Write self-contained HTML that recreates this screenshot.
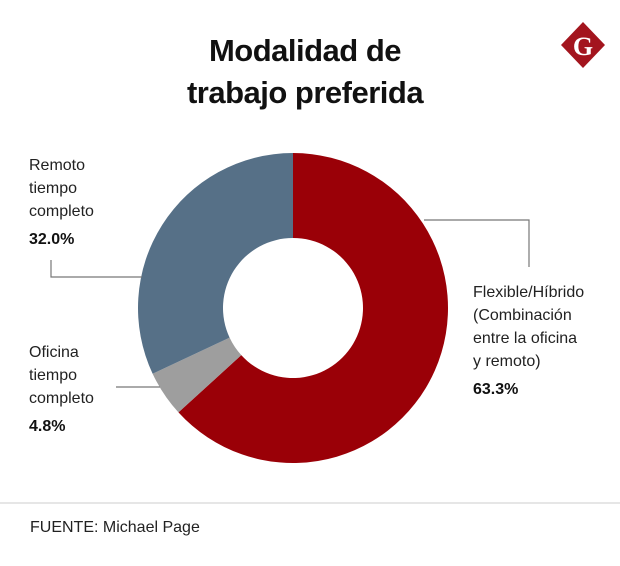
<!DOCTYPE html>
<html><head><meta charset="utf-8"><style>
body{margin:0;background:#fff;width:620px;height:566px;overflow:hidden;font-family:"Liberation Sans",sans-serif}
.t{position:absolute;left:0;width:610px;text-align:center;font-weight:bold;font-size:31px;color:#111;letter-spacing:-0.5px}
.lab{position:absolute;font-size:16px;line-height:23px;color:#222}
.lab b{display:block;margin-top:5px;color:#111}
</style></head><body>
<div class="t" style="top:30px;line-height:42px">Modalidad de<br>trabajo preferida</div>
<svg width="620" height="566" style="position:absolute;left:0;top:0" id="svg">
<polygon points="583,22 605,45 583,68 561,45" fill="#a3151e"/>
<text x="583" y="55" font-family="Liberation Serif" font-weight="bold" font-size="26" fill="#fff" text-anchor="middle">G</text>
<g id="donut"></g>
<g fill="none" stroke="#777" stroke-width="1.2">
<polyline points="424,220 529,220 529,267"/>
<polyline points="51,260 51,277 142,277"/>
<polyline points="116,387 160,387"/>
</g>
<line x1="0" y1="503" x2="620" y2="503" stroke="#ccc"/>
</svg>
<div class="lab" style="left:29px;top:154px">Remoto<br>tiempo<br>completo<b>32.0%</b></div>
<div class="lab" style="left:29px;top:341px">Oficina<br>tiempo<br>completo<b>4.8%</b></div>
<div class="lab" style="left:473px;top:281px">Flexible/Híbrido<br>(Combinación<br>entre la oficina<br>y remoto)<b>63.3%</b></div>
<div class="lab" style="left:30px;top:516px;font-size:16px">FUENTE: Michael Page</div>
<script>
const categories=["Flexible/Híbrido","Oficina tiempo completo","Remoto tiempo completo"];
const values=[63.3,4.8,32.0];
const colors=["#9a0007","#9e9e9e","#567087"];
const cx=293,cy=308,R=155,r=70;
const g=document.getElementById('donut');
const total=values.reduce((a,b)=>a+b,0);
let a0=0;
function pt(rad,a){return [cx+rad*Math.sin(a),cy-rad*Math.cos(a)];}
values.forEach((v,i)=>{
const a1=a0+v/total*2*Math.PI;
const large=(a1-a0)>Math.PI?1:0;
const p1=pt(R,a0),p2=pt(R,a1),p3=pt(r,a1),p4=pt(r,a0);
const p=document.createElementNS('http://www.w3.org/2000/svg','path');
p.setAttribute('d',`M${p1}A${R},${R} 0 ${large} 1 ${p2}L${p3}A${r},${r} 0 ${large} 0 ${p4}Z`);
p.setAttribute('fill',colors[i]);


g.appendChild(p);
a0=a1;
});
</script>
</body></html>
